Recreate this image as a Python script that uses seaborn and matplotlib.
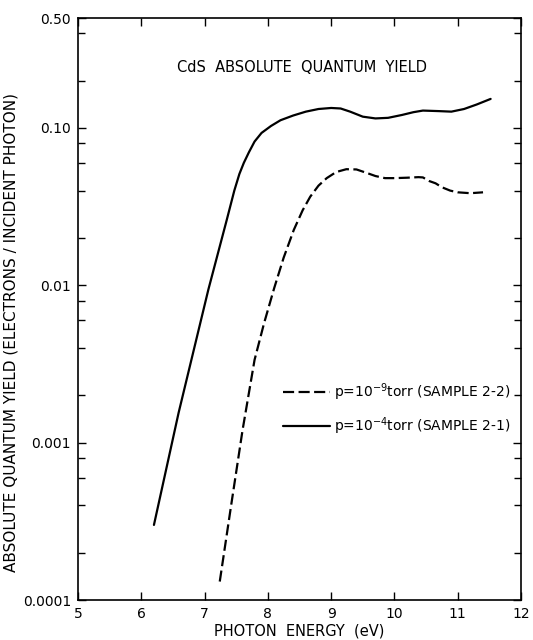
import numpy as np
import pandas as pd
import matplotlib
matplotlib.use("Agg")
import matplotlib.pyplot as plt
import seaborn as sns
from matplotlib.ticker import FixedLocator, NullFormatter

# ---- data ----
energy_1e4 = [6.20, 6.59, 7.06, 7.35, 7.47, 7.55, 7.62, 7.70, 7.79, 7.90, 8.05, 8.20,
              8.40, 8.60, 8.80, 9.00, 9.15, 9.30, 9.50, 9.70, 9.90, 10.12, 10.30,
              10.45, 10.70, 10.90, 11.10, 11.30, 11.52]
yield_1e4 = [3.0e-4, 1.55e-3, 9.4e-3, 0.026, 0.040, 0.051, 0.060, 0.070, 0.082, 0.093,
             0.103, 0.112, 0.120, 0.127, 0.132, 0.134, 0.133, 0.127, 0.118, 0.115,
             0.116, 0.121, 0.126, 0.129, 0.128, 0.127, 0.132, 0.141, 0.153]

energy_1e9 = [7.24, 7.42, 7.60, 7.79, 7.94, 8.10, 8.25, 8.41, 8.55, 8.67, 8.80, 8.93,
              9.08, 9.24, 9.40, 9.55, 9.70, 9.85, 10.00, 10.20, 10.38, 10.45, 10.55,
              10.65, 10.75, 10.88, 11.00, 11.20, 11.40]
yield_1e9 = [1.31e-4, 4.0e-4, 1.2e-3, 3.36e-3, 5.74e-3, 9.6e-3, 0.0150, 0.0225, 0.030,
             0.0366, 0.043, 0.048, 0.0525, 0.0547, 0.0545, 0.052, 0.0495, 0.048, 0.048,
             0.0483, 0.0487, 0.0485, 0.046, 0.0445, 0.042, 0.040, 0.039, 0.0385, 0.039]

label_1e9 = r"p=10$^{-9}$torr (SAMPLE 2-2)"
label_1e4 = r"p=10$^{-4}$torr (SAMPLE 2-1)"

x_ticks = [5, 6, 7, 8, 9, 10, 11, 12]
x_tick_labels = ["5", "6", "7", "8", "9", "10", "11", "12"]
y_ticks = [0.0001, 0.001, 0.01, 0.10, 0.50]
y_tick_labels = ["0.0001", "0.001", "0.01", "0.10", "0.50"]

df = pd.concat([
    pd.DataFrame({"energy": energy_1e9, "yield": yield_1e9, "sample": label_1e9}),
    pd.DataFrame({"energy": energy_1e4, "yield": yield_1e4, "sample": label_1e4}),
], ignore_index=True)

sns.set_theme(style="ticks")
plt.rcParams["font.family"] = ["DejaVu Sans"]
plt.rcParams["text.color"] = "black"
plt.rcParams["axes.labelcolor"] = "black"
plt.rcParams["xtick.color"] = "black"
plt.rcParams["ytick.color"] = "black"

fig = plt.figure(figsize=(5.33, 6.4), dpi=100)
ax = fig.add_axes([78 / 533, 1 - 600 / 640, (521 - 78) / 533, (600 - 18) / 640])

sns.lineplot(data=df, x="energy", y="yield", style="sample", color="black",
             style_order=[label_1e9, label_1e4],
             dashes={label_1e9: (5, 2), label_1e4: ""},
             linewidth=1.6, sort=False, estimator=None, ax=ax)

ax.set_yscale("log")
ax.set_xlim(5, 12)
ax.set_ylim(0.0001, 0.5)

ax.set_xticks(x_ticks)
ax.set_xticklabels(x_tick_labels)
ax.set_yticks(y_ticks)
ax.set_yticklabels(y_tick_labels)
minor = []
for dec in [1e-4, 1e-3, 1e-2, 1e-1]:
    for m in [2, 4, 6, 8]:
        if m * dec < 0.5:
            minor.append(m * dec)
ax.yaxis.set_minor_locator(FixedLocator(minor))
ax.yaxis.set_minor_formatter(NullFormatter())

ax.tick_params(axis="both", which="major", direction="in", length=6, width=1,
               top=True, right=True, labelsize=10, colors="black", pad=5)
ax.tick_params(axis="y", which="minor", direction="in", length=5, width=1,
               left=True, right=True)
for s in ax.spines.values():
    s.set_color("black")
    s.set_linewidth(1.2)

ax.set_xlabel("PHOTON  ENERGY  (eV)", fontsize=10.5, labelpad=2)
ax.set_ylabel("ABSOLUTE QUANTUM YIELD (ELECTRONS / INCIDENT PHOTON)", fontsize=11)
ax.yaxis.set_label_coords(-0.135, 0.46)

ax.text(0.505, 0.915, "CdS  ABSOLUTE  QUANTUM  YIELD", transform=ax.transAxes,
        ha="center", va="center", fontsize=10.5)

leg = ax.legend(loc="center left", bbox_to_anchor=(0.463, 0.328), frameon=False,
                fontsize=10, handlelength=3.4, handletextpad=0.3, labelspacing=0.9,
                borderpad=0, borderaxespad=0, title=None)
for t in leg.get_texts():
    t.set_color("black")

fig.savefig("out.png", dpi=100)
